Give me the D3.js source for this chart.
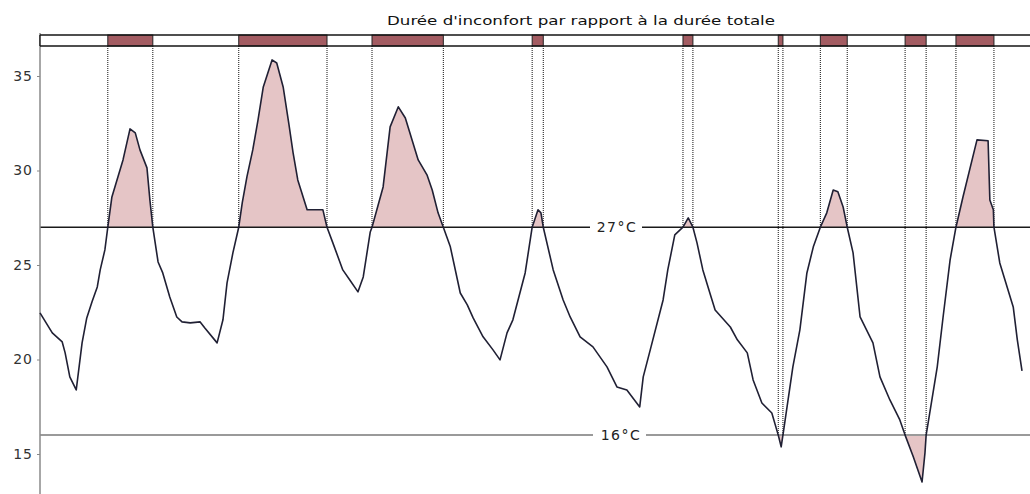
<!DOCTYPE html>
<html>
<head>
<meta charset="utf-8">
<script src="https://cdn.jsdelivr.net/npm/d3@7"></script>
<style>
  html, body { margin: 0; padding: 0; background: #fff; }
  svg { display: block; }
</style>
</head>
<body>
<svg id="chart" width="1030" height="494"></svg>
<script>
// Hourly temperature record over one week (hours since start, °C)
const hours = [
  0.0, 2.1, 3.8, 4.3, 5.1, 6.2, 7.2, 8.0, 8.9, 9.8, 10.3, 11.1, 11.6, 12.3, 14.2, 15.4,
  16.3, 17.1, 18.3, 18.8, 19.3, 20.2, 21.0, 22.2, 23.4, 24.3, 25.7, 27.4, 28.2, 30.3,
  31.3, 32.0, 33.0, 34.0, 34.6, 35.4, 36.4, 37.3, 38.2, 39.7, 40.5, 41.6, 42.6, 43.3,
  44.1, 45.7, 48.4, 49.1, 50.1, 51.8, 53.0, 54.4, 55.3, 56.5, 56.8, 58.7, 59.9, 61.3,
  62.5, 64.7, 66.2, 67.1, 68.1, 69.0, 70.2, 71.9, 73.1, 74.1, 75.8, 77.5, 78.7, 79.9,
  80.9, 83.0, 84.2, 85.2, 85.7, 86.1, 87.8, 89.5, 90.7, 92.4, 94.6, 97.0, 98.7, 100.4,
  102.6, 103.2, 104.4, 106.6, 107.4, 108.6, 110.0, 110.9, 111.7, 112.4, 113.4, 114.6,
  115.5, 118.1, 119.3, 121.0, 122.0, 123.5, 125.2, 126.3, 126.8, 127.1, 128.8, 130.0,
  131.2, 132.3, 133.5, 134.6, 135.7, 136.5, 137.4, 138.1, 139.1, 140.3, 142.5, 143.7,
  145.4, 147.1, 148.0, 149.4, 150.9, 151.4, 151.6, 153.5, 154.5, 155.7, 156.7, 157.9,
  160.3, 162.2, 162.5, 163.1, 163.2, 164.2, 166.5, 167.2, 168.0
];
const temps = [
  22.47, 21.41, 20.93, 20.35, 19.08, 18.39, 20.88, 22.20, 23.05, 23.84, 24.74, 25.80, 27.00, 28.60, 30.56, 32.20,
  31.99, 31.09, 30.14, 28.44, 27.00, 25.16, 24.58, 23.31, 22.25, 21.99, 21.94, 21.99, 21.67, 20.88,
  22.10, 24.05, 25.64, 27.00, 28.29, 29.66, 31.09, 32.68, 34.42, 35.85, 35.69, 34.42, 32.41, 30.93,
  29.50, 27.92, 27.92, 27.00, 26.17, 24.74, 24.21, 23.58, 24.37, 26.75, 27.00, 29.13, 32.31, 33.37,
  32.78, 30.56, 29.77, 28.97, 27.76, 27.00, 25.96, 23.52, 22.89, 22.20, 21.20, 20.51, 19.98, 21.41,
  22.10, 24.58, 27.00, 27.92, 27.76, 27.00, 24.74, 23.15, 22.25, 21.20, 20.67, 19.61, 18.55, 18.39,
  17.49, 19.08, 20.51, 23.15, 24.74, 26.59, 27.00, 27.49, 27.00, 26.17, 24.74, 23.52,
  22.62, 21.72, 21.04, 20.35, 18.92, 17.70, 17.17, 16.00, 15.38, 16.00, 19.61, 21.57,
  24.58, 25.96, 27.00, 27.76, 28.97, 28.87, 28.07, 27.00, 25.64, 22.25, 20.88, 19.08,
  17.86, 16.80, 16.00, 14.85, 13.52, 15.06, 16.00, 19.61, 22.25, 25.27, 27.00, 28.60,
  31.62, 31.57, 28.44, 27.92, 27.00, 25.11, 22.78, 21.04, 19.40
];
const yTicks = [15, 20, 25, 30, 35];
const upperLimit = 27;   // discomfort above
const lowerLimit = 16;   // discomfort below
const titleText = "Durée d'inconfort par rapport à la durée totale";

const W = 1030, H = 494;
const left = 40;
const barTop = 35, barBottom = 46;

const x = d3.scaleLinear().domain([0, 168]).range([left, 1022]);
const y = d3.scaleLinear().domain([15, 35]).range([454, 76]);

const data = hours.map((h, i) => ({ h, t: temps[i] }));
const svg = d3.select("#chart");

// Periods where a predicate holds, with edges interpolated at the threshold
function spans(pred, thr) {
  const out = [];
  let start = pred(data[0].t) ? data[0].h : null;
  for (let i = 0; i < data.length - 1; i++) {
    const a = data[i], b = data[i + 1];
    const sa = pred(a.t), sb = pred(b.t);
    if (sa !== sb) {
      const f = (thr - a.t) / (b.t - a.t);
      const hc = a.h + f * (b.h - a.h);
      if (sb) start = hc; else { out.push([start, hc]); start = null; }
    }
  }
  if (start !== null) out.push([start, data[data.length - 1].h]);
  return out;
}
const hot = spans(t => t >= upperLimit, upperLimit);
const cold = spans(t => t <= lowerLimit, lowerLimit);

// Clip regions for the shaded excursions
const defs = svg.append("defs");
defs.append("clipPath").attr("id", "clipAbove")
  .append("rect").attr("x", left).attr("y", barBottom)
  .attr("width", W - left).attr("height", y(upperLimit) - barBottom);
defs.append("clipPath").attr("id", "clipBelow")
  .append("rect").attr("x", left).attr("y", y(lowerLimit))
  .attr("width", W - left).attr("height", H - y(lowerLimit));

const fillCol = "#e5c5c6";
svg.append("path").datum(data)
  .attr("clip-path", "url(#clipAbove)")
  .attr("fill", fillCol)
  .attr("d", d3.area().x(d => x(d.h)).y0(y(upperLimit)).y1(d => y(d.t)));
svg.append("path").datum(data)
  .attr("clip-path", "url(#clipBelow)")
  .attr("fill", fillCol)
  .attr("d", d3.area().x(d => x(d.h)).y0(y(lowerLimit)).y1(d => y(d.t)));

// Threshold lines
svg.append("line")
  .attr("x1", left).attr("x2", W)
  .attr("y1", y(lowerLimit)).attr("y2", y(lowerLimit))
  .attr("stroke", "#9a9a9a").attr("stroke-width", 2);
svg.append("line")
  .attr("x1", left).attr("x2", W)
  .attr("y1", y(upperLimit)).attr("y2", y(upperLimit))
  .attr("stroke", "#1a1a1a").attr("stroke-width", 1.6);

// Y axis
const axis = svg.append("g").attr("transform", `translate(${left},0)`)
  .call(d3.axisLeft(y).tickValues(yTicks).tickSize(3).tickPadding(4).tickFormat(d3.format("d")));
axis.select(".domain").remove();
axis.selectAll(".tick line").attr("stroke", "#888");
axis.selectAll(".tick text")
  .attr("fill", "#333")
  .style("font-family", "'DejaVu Sans', sans-serif")
  .style("font-size", "14px")
  .style("letter-spacing", "1px");
svg.append("line")
  .attr("x1", left).attr("x2", left)
  .attr("y1", 33).attr("y2", H)
  .attr("stroke", "#8a8a8a").attr("stroke-width", 1.5);

// Dotted guides from the band down to each crossing
const guides = [];
hot.forEach(([a, b]) => { guides.push([a, upperLimit], [b, upperLimit]); });
cold.forEach(([a, b]) => { guides.push([a, lowerLimit], [b, lowerLimit]); });
svg.append("g").selectAll("line").data(guides).join("line")
  .attr("x1", d => x(d[0])).attr("x2", d => x(d[0]))
  .attr("y1", barBottom).attr("y2", d => y(d[1]))
  .attr("stroke", "#111").attr("stroke-width", 1)
  .attr("stroke-dasharray", "1,1");

// Temperature curve
svg.append("path").datum(data)
  .attr("fill", "none")
  .attr("stroke", "#202034")
  .attr("stroke-width", 1.6)
  .attr("stroke-linejoin", "round")
  .attr("d", d3.line().x(d => x(d.h)).y(d => y(d.t)));

// Discomfort band
svg.append("rect")
  .attr("x", left).attr("y", barTop)
  .attr("width", W - left + 5).attr("height", barBottom - barTop)
  .attr("fill", "#fff");
svg.append("g").selectAll("rect").data(hot.concat(cold)).join("rect")
  .attr("x", d => x(d[0])).attr("y", barTop)
  .attr("width", d => x(d[1]) - x(d[0])).attr("height", barBottom - barTop)
  .attr("fill", "#a35c62").attr("stroke", "#222").attr("stroke-width", 1);
[barTop, barBottom].forEach(v => {
  svg.append("line").attr("x1", left).attr("x2", W)
    .attr("y1", v).attr("y2", v)
    .attr("stroke", "#151515").attr("stroke-width", 1.6);
});
svg.append("line").attr("x1", left).attr("x2", left)
  .attr("y1", barTop).attr("y2", barBottom)
  .attr("stroke", "#151515").attr("stroke-width", 1.4);

// Threshold labels
function limitLabel(value, cx, x0, x1) {
  svg.append("rect")
    .attr("x", x0).attr("y", y(value) - 7)
    .attr("width", x1 - x0).attr("height", 14)
    .attr("fill", "#fff");
  svg.append("text")
    .attr("x", cx).attr("y", y(value) + 5)
    .attr("text-anchor", "middle")
    .attr("fill", "#222")
    .style("font-family", "'DejaVu Sans', sans-serif")
    .style("font-size", "14px")
    .style("letter-spacing", "1.5px")
    .text(value + "°C");
}
limitLabel(upperLimit, 617, 590, 642);
limitLabel(lowerLimit, 621, 593, 646);

// Title
svg.append("text")
  .attr("x", 581).attr("y", 25)
  .attr("text-anchor", "middle")
  .attr("fill", "#111")
  .attr("textLength", 388).attr("lengthAdjust", "spacingAndGlyphs")
  .style("font-family", "'DejaVu Sans', sans-serif")
  .style("font-size", "13px")
  .text(titleText);
</script>
</body>
</html>
